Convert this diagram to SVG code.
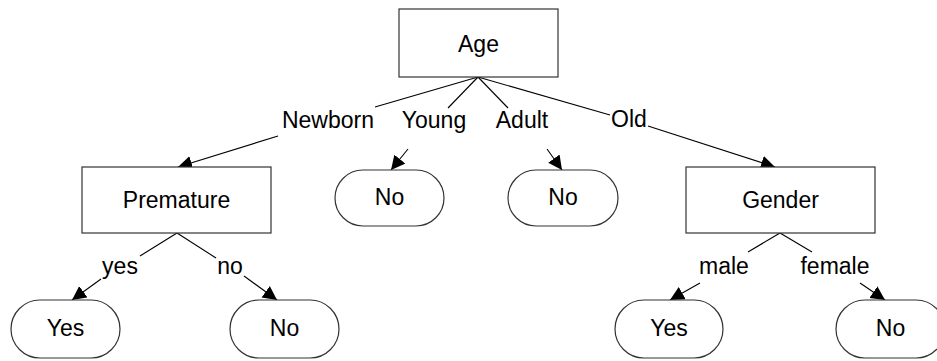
<svg xmlns="http://www.w3.org/2000/svg" width="937" height="361" viewBox="0 0 937 361">
  <defs>
    <marker id="arrow" markerUnits="userSpaceOnUse" markerWidth="16" markerHeight="16" refX="14" refY="7" orient="auto">
      <path d="M0,0 L14,7 L0,14 z" fill="#000"/>
    </marker>
    <style>
      .box { fill: #fff; stroke: #333; stroke-width: 1.2; }
      .lbl { font-family: "Liberation Sans", Arial, sans-serif; font-size: 23px; fill: #000; text-anchor: middle; }
      .edge { stroke: #000; stroke-width: 1.1; fill: none; }
      .edge.tip { marker-end: url(#arrow); }
    </style>
  </defs>
  <rect width="937" height="361" fill="#fff"/>

  <!-- connectors: each split around its label -->
  <g id="connectors">
    <line class="edge" x1="478" y1="77" x2="375" y2="107"/>
    <line class="edge tip" x1="278" y1="136" x2="178" y2="167"/>
    <line class="edge" x1="478" y1="77" x2="448" y2="108"/>
    <line class="edge tip" x1="408" y1="149" x2="391" y2="170"/>
    <line class="edge" x1="478" y1="77" x2="508" y2="108"/>
    <line class="edge tip" x1="547" y1="149" x2="562" y2="170"/>
    <line class="edge" x1="478" y1="77" x2="610" y2="115"/>
    <line class="edge tip" x1="648" y1="126" x2="775" y2="167"/>
    <line class="edge" x1="177" y1="233" x2="140" y2="256"/>
    <line class="edge tip" x1="101" y1="279" x2="72" y2="300"/>
    <line class="edge" x1="177" y1="233" x2="216" y2="258"/>
    <line class="edge tip" x1="244" y1="276" x2="277" y2="300"/>
    <line class="edge" x1="780" y1="233" x2="748" y2="252"/>
    <line class="edge tip" x1="700" y1="283" x2="670" y2="300"/>
    <line class="edge" x1="780" y1="233" x2="812" y2="252"/>
    <line class="edge tip" x1="860" y1="283" x2="885" y2="300"/>
  </g>

  <!-- branch labels -->
  <g id="edge-labels">
    <text class="lbl" x="328" y="128">Newborn</text>
    <text class="lbl" x="434" y="128">Young</text>
    <text class="lbl" x="522" y="128">Adult</text>
    <text class="lbl" x="629" y="127">Old</text>
    <text class="lbl" x="120" y="274">yes</text>
    <text class="lbl" x="230" y="274">no</text>
    <text class="lbl" x="724" y="274">male</text>
    <text class="lbl" x="835" y="274">female</text>
  </g>

  <g id="age">
    <rect class="box" x="399" y="9" width="159" height="68"/>
    <text class="lbl" x="478.5" y="52">Age</text>
  </g>
  <g id="premature">
    <rect class="box" x="82" y="167" width="189" height="66"/>
    <text class="lbl" x="176.5" y="208">Premature</text>
  </g>
  <g id="young-no">
    <rect class="box" x="335" y="170" width="109" height="56" rx="28" ry="28"/>
    <text class="lbl" x="389.5" y="205">No</text>
  </g>
  <g id="adult-no">
    <rect class="box" x="508" y="170" width="110" height="56" rx="28" ry="28"/>
    <text class="lbl" x="563" y="205">No</text>
  </g>
  <g id="gender">
    <rect class="box" x="686" y="167" width="189" height="66"/>
    <text class="lbl" x="780.5" y="208">Gender</text>
  </g>
  <g id="premature-yes">
    <rect class="box" x="11" y="300" width="109" height="58" rx="29" ry="29"/>
    <text class="lbl" x="65.5" y="336">Yes</text>
  </g>
  <g id="premature-no">
    <rect class="box" x="230" y="300" width="109" height="58" rx="29" ry="29"/>
    <text class="lbl" x="284.5" y="336">No</text>
  </g>
  <g id="male-yes">
    <rect class="box" x="615" y="300" width="108" height="58" rx="29" ry="29"/>
    <text class="lbl" x="669" y="336">Yes</text>
  </g>
  <g id="female-no">
    <rect class="box" x="836" y="300" width="109" height="58" rx="29" ry="29"/>
    <text class="lbl" x="890.5" y="336">No</text>
  </g>
</svg>
